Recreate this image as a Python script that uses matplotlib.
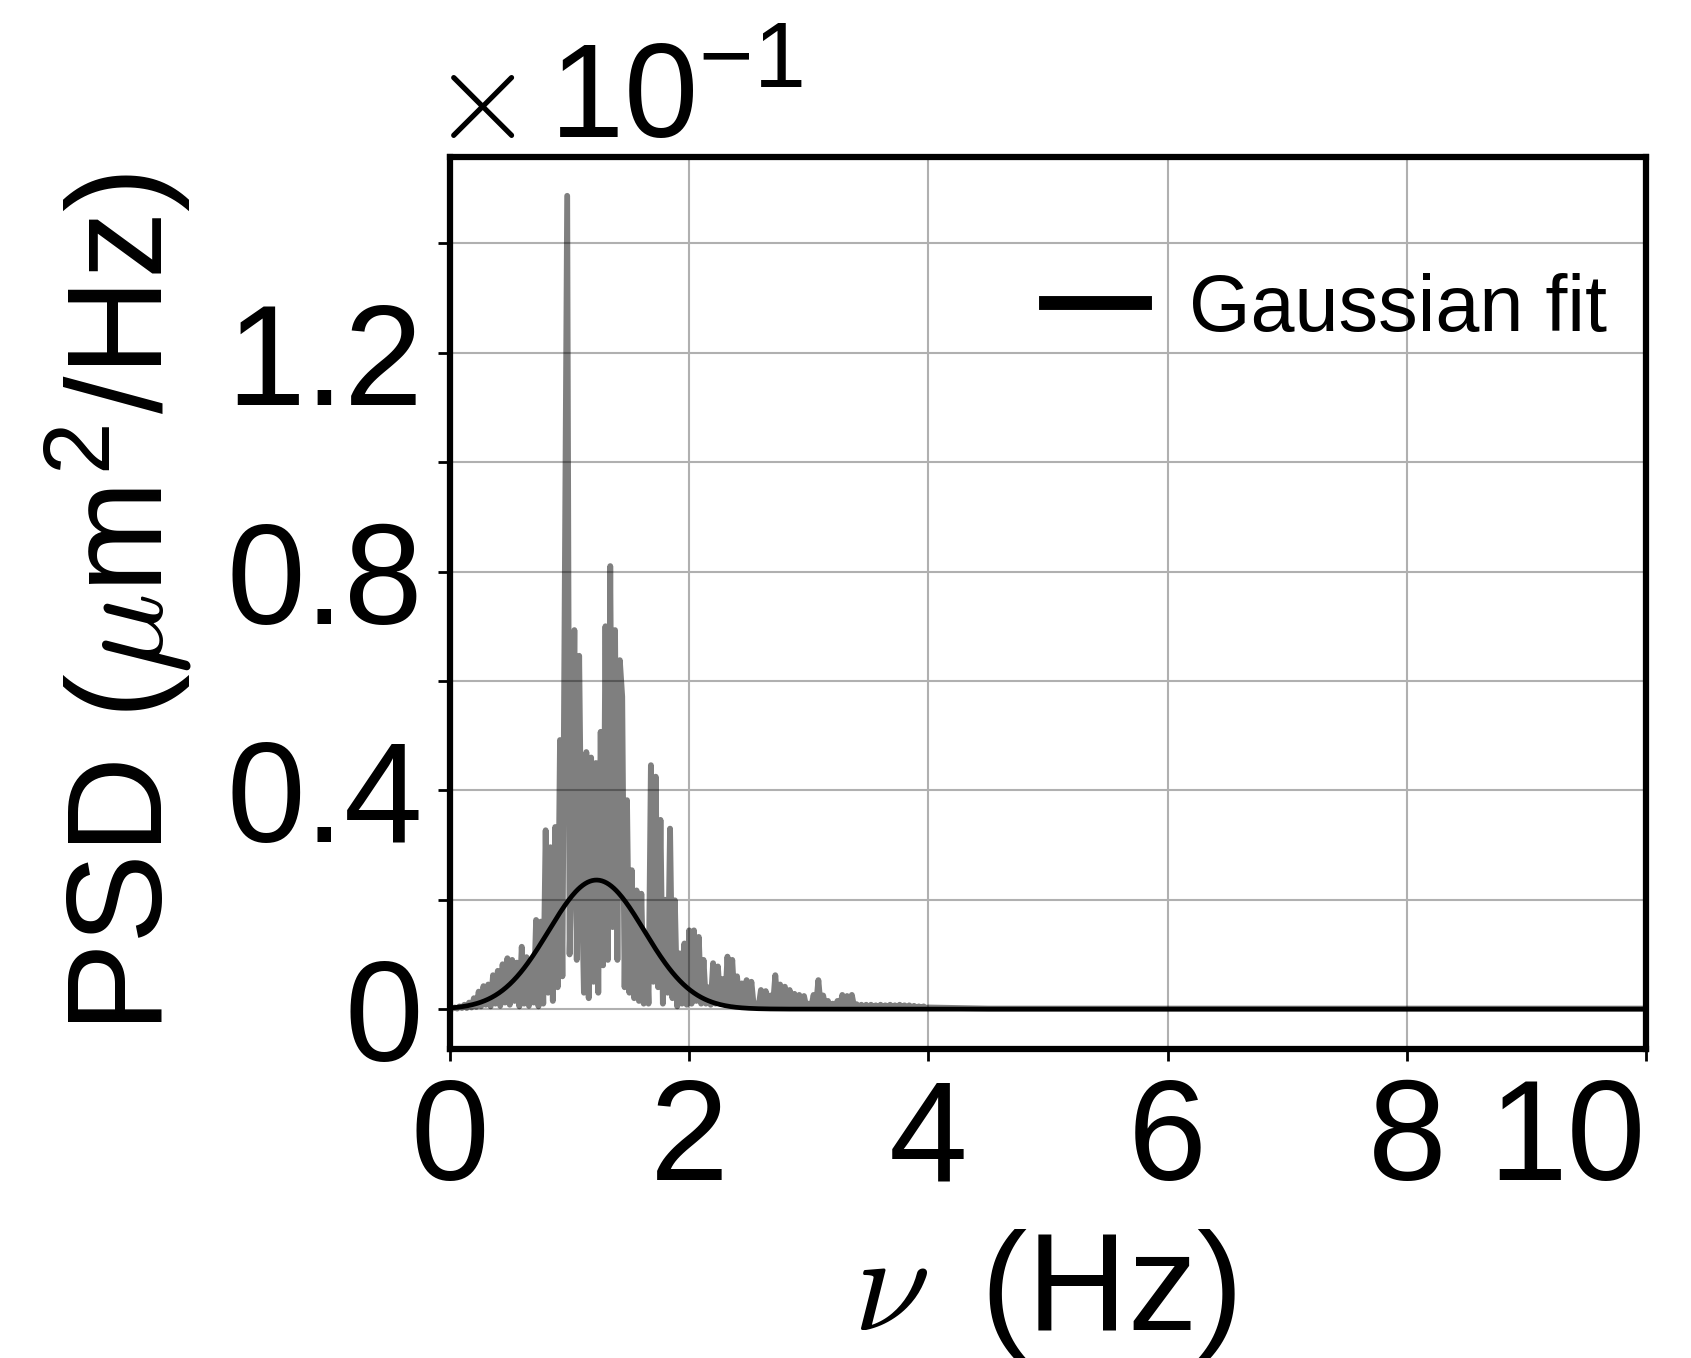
import numpy as np
import matplotlib
matplotlib.use("Agg")
import matplotlib.pyplot as plt

# measured spectrum, 0.02 Hz grid from 0 to 4 Hz (um^2/Hz)
freq = np.round(np.arange(0, 4.001, 0.02), 2)
psd = [
    0.0002, 0.0001, 0.0003, 0.0001, 0.0005, 0.0002, 0.0008, 0.0002, 0.0012, 0.0003,
    0.0020, 0.0004, 0.0032, 0.0005, 0.0042, 0.0008, 0.0045, 0.0005, 0.0062, 0.0010,
    0.0070, 0.0006, 0.0082, 0.0012, 0.0093, 0.0008, 0.0090, 0.0015, 0.0085, 0.0005,
    0.0114, 0.0010, 0.0095, 0.0006, 0.0085, 0.0012, 0.0163, 0.0005, 0.0160, 0.0010,
    0.0327, 0.0030, 0.0296, 0.0015, 0.0333, 0.0040, 0.0492, 0.0060, 0.0760, 0.1487,
    0.0100, 0.0300, 0.0693, 0.0090, 0.0646, 0.0250, 0.0030, 0.0470, 0.0020, 0.0460,
    0.0050, 0.0450, 0.0030, 0.0507, 0.0080, 0.0700, 0.0090, 0.0810, 0.0150, 0.0693,
    0.0090, 0.0638, 0.0571, 0.0040, 0.0382, 0.0030, 0.0254, 0.0020, 0.0217, 0.0015,
    0.0211, 0.0010, 0.0132, 0.0010, 0.0446, 0.0050, 0.0425, 0.0040, 0.0346, 0.0010,
    0.0200, 0.0030, 0.0330, 0.0020, 0.0199, 0.0005, 0.0102, 0.0010, 0.0120, 0.0008,
    0.0144, 0.0010, 0.0144, 0.0015, 0.0132, 0.0010, 0.0090, 0.0010, 0.0040, 0.0008,
    0.0084, 0.0010, 0.0078, 0.0010, 0.0055, 0.0008, 0.0096, 0.0012, 0.0090, 0.0010,
    0.0060, 0.0006, 0.0047, 0.0008, 0.0053, 0.0007, 0.0050, 0.0005, 0.0010, 0.0004,
    0.0035, 0.0005, 0.0033, 0.0004, 0.0025, 0.0005, 0.0062, 0.0006, 0.0045, 0.0005,
    0.0041, 0.0004, 0.0035, 0.0004, 0.0028, 0.0003, 0.0026, 0.0004, 0.0024, 0.0003,
    0.0010, 0.0003, 0.0026, 0.0004, 0.0053, 0.0004, 0.0025, 0.0003, 0.0015, 0.0003,
    0.0010, 0.0003, 0.0015, 0.0003, 0.0026, 0.0003, 0.0024, 0.0003, 0.0026, 0.0003,
    0.0009, 0.0003, 0.0008, 0.0002, 0.0008, 0.0002, 0.0008, 0.0002, 0.0007, 0.0002,
    0.0008, 0.0002, 0.0007, 0.0002, 0.0008, 0.0002, 0.0007, 0.0002, 0.0008, 0.0002,
    0.0007, 0.0002, 0.0007, 0.0002, 0.0006, 0.0002, 0.0005, 0.0002, 0.0005, 0.0002,
    0.0003,
]
freq_tail = [4.5, 5.0, 6.0, 7.0, 8.0, 9.0, 10.0]
psd_tail = [0.0001, 0.0001, 0.0001, 0.0001, 0.0001, 0.0001, 0.0001]

# gaussian fit parameters
fit_amp = 0.0236
fit_center = 1.225
fit_sigma = 0.40

x_ticks = [0, 2, 4, 6, 8, 10]
y_ticks = [0, 0.02, 0.04, 0.06, 0.08, 0.10, 0.12, 0.14]
y_ticklabels = ["0", "", "0.4", "", "0.8", "", "1.2", ""]

plt.rcParams['font.family'] = 'Liberation Sans'
plt.rcParams['mathtext.fontset'] = 'cm'

freq_all = np.concatenate([freq, freq_tail])
psd_all = np.concatenate([psd, psd_tail])
fit_x = np.linspace(0, 10, 1001)
fit_y = fit_amp * np.exp(-(fit_x - fit_center) ** 2 / (2 * fit_sigma ** 2))

fig = plt.figure(figsize=(16.91, 13.58), dpi=100)
ax = fig.add_axes([0.2661, 0.2275, 0.7073, 0.6569])

ax.plot(freq_all, psd_all, color='k', alpha=0.5, lw=4.2, zorder=2)
ax.plot(fit_x, fit_y, color='k', lw=3.4, zorder=3, label='Gaussian fit')

ax.set_xlim(0, 10)
ax.set_ylim(-0.0073, 0.1558)
ax.set_xticks(x_ticks)
ax.set_xticklabels([str(t) for t in x_ticks])
ax.get_xticklabels()[-1].set_ha('right')
ax.set_yticks(y_ticks)
ax.set_yticklabels(y_ticklabels)
ax.grid(True, color='#b0b0b0', lw=1.5)
ax.set_axisbelow(True)
ax.tick_params(labelsize=102, length=8.6, width=2, pad=11, direction='out')
for s in ax.spines.values():
    s.set_linewidth(4.5)

# offset text of the y axis
ax.text(-0.0155, 1.021, r'$\times$', transform=ax.transAxes,
        fontsize=94, ha='left', va='baseline')
ax.text(0.083, 1.021, r'$\mathregular{10^{-1}}$', transform=ax.transAxes,
        fontsize=96, ha='left', va='baseline')

leg = ax.legend(loc='center right', bbox_to_anchor=(0.9674, 0.828), frameon=False,
                fontsize=57, handlelength=1.25, handletextpad=0.56,
                borderpad=0, borderaxespad=0)
for l in leg.get_lines():
    l.set_linewidth(10)

ax.set_xlabel(r'$\nu\,$ (Hz)', fontsize=100)
ax.xaxis.set_label_coords(0.497, -0.20)
ax.set_ylabel(r'PSD ($\mu$m$^{\mathregular{2}}$/Hz)', fontsize=97)
ax.yaxis.set_label_coords(-0.214, 0.5)

fig.savefig("out.png", dpi=100)
